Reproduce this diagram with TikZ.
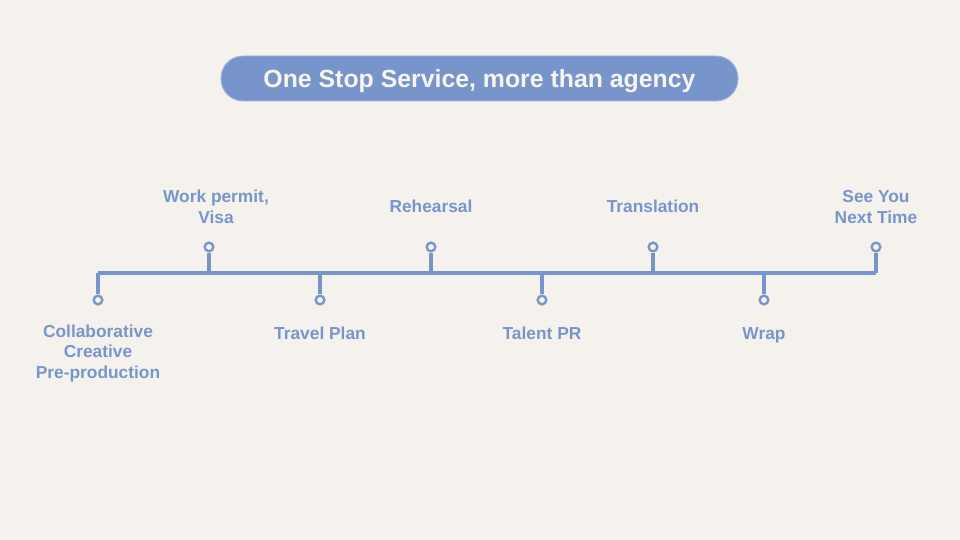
\documentclass[tikz,border=0pt]{standalone}
\usepackage{fontspec}
\setmainfont{Liberation Sans}
\usepackage{xcolor}
\usepackage{tikz}
\usetikzlibrary{positioning}
\definecolor{paper}{HTML}{F5F2EE}
\definecolor{steel}{HTML}{7895CB}
\definecolor{snow}{HTML}{F7F5F2}
\tikzset{
  banner/.style={draw=steel!70!white, line width=0.8pt, fill=steel, rounded corners=0.66cm,
    minimum width=15.51cm, minimum height=1.35cm, text=snow, text height=15.3pt, text depth=0pt,
    font=\bfseries\fontsize{21.2}{24}\selectfont},
  dot/.style={circle, draw=steel, fill=paper, line width=2pt, inner sep=0pt, minimum size=0.26cm},
  stem/.style={draw=steel, line width=2.8pt},
  lbl/.style={text=steel, align=center, inner sep=0pt, anchor=base, font=\bfseries\fontsize{14.8}{17.1}\selectfont}
}

\begin{document}
\begin{tikzpicture}[x=0.03cm, y=-0.03cm]
  % Background
  \fill[paper] (0,0) rectangle (960,540);
  \useasboundingbox (0,0) rectangle (960,540);

  % Title
  \node[banner] (title) at (479.5,78.5) {One Stop Service, more than agency};

  % Timeline joints
  \coordinate (j1) at (98,273);
  \coordinate (j2) at (209,273);
  \coordinate (j3) at (320,273);
  \coordinate (j4) at (431,273);
  \coordinate (j5) at (542,273);
  \coordinate (j6) at (653,273);
  \coordinate (j7) at (764,273);
  \coordinate (j8) at (876,273);

  % Markers
  \node[dot] (d1) at (98,300) {};
  \node[dot] (d2) at (209,247) {};
  \node[dot] (d3) at (320,300) {};
  \node[dot] (d4) at (431,247) {};
  \node[dot] (d5) at (542,300) {};
  \node[dot] (d6) at (653,247) {};
  \node[dot] (d7) at (764,300) {};
  \node[dot] (d8) at (876,247) {};

  % Labels (base = last line)
  \node[lbl] (l1) at (98,378) {Collaborative\\Creative\\Pre-production};
  \node[lbl] (l2) at (216,223) {Work permit,\\Visa};
  \node[lbl] (l3) at (320,339) {Travel Plan};
  \node[lbl] (l4) at (431,213) {Rehearsal};
  \node[lbl] (l5) at (542,339) {Talent PR};
  \node[lbl] (l6) at (653,213) {Translation};
  \node[lbl] (l7) at (764,339) {Wrap};
  \node[lbl] (l8) at (876,223) {See You\\Next Time};

  % Line and stems
  \draw[stem] (j1) -- (j8);
  \draw[stem] (j1) -- (d1);
  \draw[stem] (j2) -- (d2);
  \draw[stem] (j3) -- (d3);
  \draw[stem] (j4) -- (d4);
  \draw[stem] (j5) -- (d5);
  \draw[stem] (j6) -- (d6);
  \draw[stem] (j7) -- (d7);
  \draw[stem] (j8) -- (d8);
\end{tikzpicture}
\end{document}
